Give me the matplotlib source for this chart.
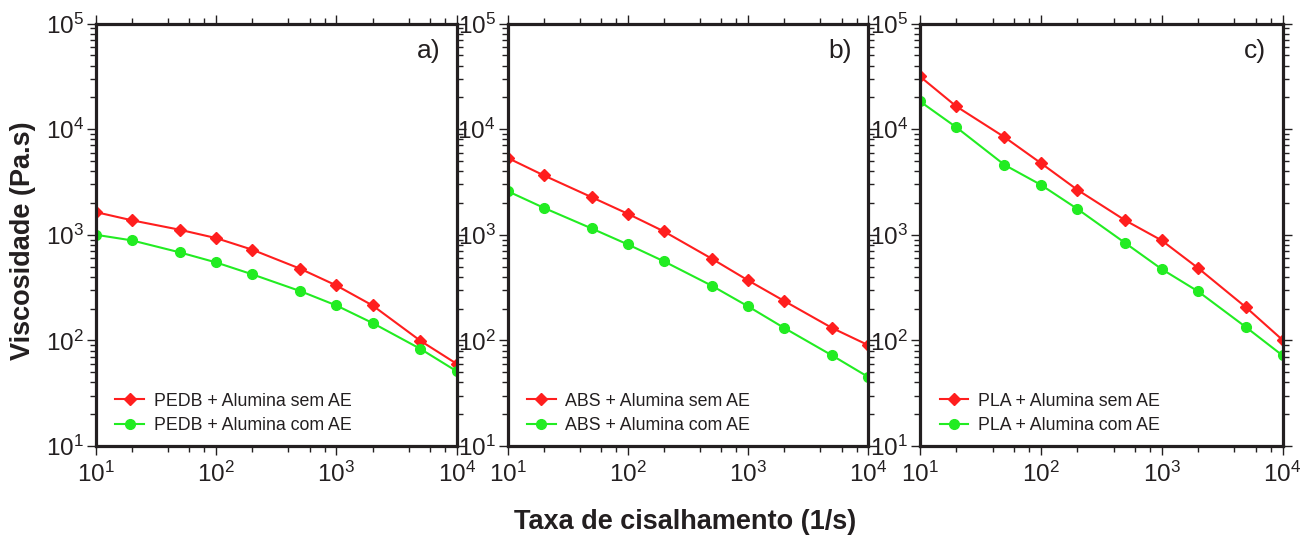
import math
import matplotlib
matplotlib.use("Agg")
import matplotlib.pyplot as plt
from matplotlib.ticker import LogLocator, FuncFormatter, NullFormatter

plt.rcParams['font.family'] = ['Liberation Sans', 'DejaVu Sans']
plt.rcParams['mathtext.fontset'] = 'custom'
plt.rcParams['mathtext.rm'] = 'Liberation Sans'
plt.rcParams['mathtext.it'] = 'Liberation Sans'
plt.rcParams['mathtext.bf'] = 'Liberation Sans:bold'

shear_rate = [10, 20, 50, 100, 200, 500, 1000, 2000, 5000, 10000]

pedb_sem = [1640, 1370, 1115, 930, 722, 477, 331, 214, 99, 60]
pedb_com = [1000, 884, 681, 547, 422, 293, 214, 146, 83, 51]
abs_sem = [5350, 3650, 2270, 1580, 1075, 593, 370, 236, 131, 90]
abs_com = [2590, 1800, 1148, 810, 560, 329, 210, 131, 72, 45]
pla_sem = [31500, 16400, 8400, 4770, 2670, 1367, 884, 484, 205, 101]
pla_com = [18300, 10400, 4590, 2970, 1760, 834, 473, 291, 133, 72]

labels_sem = ["PEDB + Alumina sem AE", "ABS + Alumina sem AE", "PLA + Alumina sem AE"]
labels_com = ["PEDB + Alumina com AE", "ABS + Alumina com AE", "PLA + Alumina com AE"]
panel_tags = ["a)", "b)", "c)"]

x_label = "Taxa de cisalhamento (1/s)"
y_label = "Viscosidade (Pa.s)"

RED = '#ff1e1e'
GREEN = '#22ec22'
DARK = '#231f20'

fig = plt.figure(figsize=(13.01, 5.38), dpi=100)
W, H = 1301, 538
lefts = [95.7, 507.5, 920.0]
rights = [456.7, 868.3, 1282.5]
top_px, bot_px = 23.5, 446.0

series = [(pedb_sem, pedb_com), (abs_sem, abs_com), (pla_sem, pla_com)]


def fmt(v, pos):
    e = int(round(math.log10(v)))
    return r'$\mathregular{10^{%d}}$' % e


for i in range(3):
    ax = fig.add_axes([lefts[i] / W, 1 - bot_px / H, (rights[i] - lefts[i]) / W,
                       (bot_px - top_px) / H])
    sem, com = series[i]
    ax.plot(shear_rate, sem, color=RED, lw=1.5, marker='D', ms=6.5, mec=RED, mfc=RED,
            label=labels_sem[i])
    ax.plot(shear_rate, com, color=GREEN, lw=1.5, marker='o', ms=7, mec=GREEN, mfc=GREEN,
            label=labels_com[i])
    ax.set_xscale('log')
    ax.set_yscale('log')
    ax.set_xlim(10, 1e4)
    ax.set_ylim(10, 1e5)
    ax.xaxis.set_major_locator(LogLocator(base=10, numticks=10))
    ax.yaxis.set_major_locator(LogLocator(base=10, numticks=10))
    ax.xaxis.set_minor_locator(LogLocator(base=10, subs=(2, 4, 6, 8), numticks=10))
    ax.yaxis.set_minor_locator(LogLocator(base=10, subs=range(2, 10), numticks=10))
    ax.xaxis.set_major_formatter(FuncFormatter(fmt))
    ax.yaxis.set_major_formatter(FuncFormatter(fmt))
    ax.xaxis.set_minor_formatter(NullFormatter())
    ax.yaxis.set_minor_formatter(NullFormatter())
    ax.tick_params(which='both', direction='out', top=True, right=True, color=DARK,
                   labelcolor=DARK, labelsize=17.5)
    ax.tick_params(which='major', length=6.5, width=1.0, pad=2)
    ax.tick_params(which='minor', length=4.5, width=1.0)
    ax.tick_params(axis='x', which='major', pad=5)
    for s in ax.spines.values():
        s.set_linewidth(2.3)
        s.set_color(DARK)
    ax.text(0.955, 0.935, panel_tags[i], transform=ax.transAxes, ha='right', va='center',
            fontsize=19, color=DARK)
    leg = ax.legend(loc='lower left', bbox_to_anchor=(0.025, 0.003), frameon=False,
                    fontsize=12.8, handlelength=1.6, handletextpad=0.55, labelspacing=0.42,
                    borderaxespad=0.2)
    for t in leg.get_texts():
        t.set_color(DARK)

fig.text(23 / W, 1 - 241 / H, y_label, rotation=90, ha='center', va='center',
         fontsize=19.5, fontweight='bold', color=DARK)
fig.text(685 / W, 1 - 522 / H, x_label, ha='center', va='center', fontsize=19.5,
         fontweight='bold', color=DARK)

fig.savefig('out.png', dpi=100)
